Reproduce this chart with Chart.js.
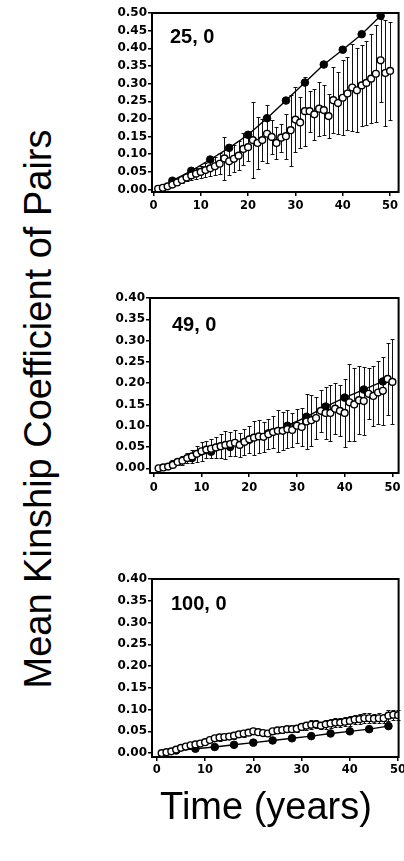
<!DOCTYPE html>
<html>
<head>
<meta charset="utf-8">
<script src="https://cdn.jsdelivr.net/npm/chart.js@4.4.1/dist/chart.umd.min.js"></script>
<style>
  body { margin:0; background:#fff; }
  #page { position:relative; width:404px; height:861px; overflow:hidden; font-family:"Liberation Sans", Arial, sans-serif; color:#000; }
  canvas { position:absolute; }
  .tag { position:absolute; font-weight:bold; font-size:20px; line-height:1; white-space:nowrap; }
  #yTitle { position:absolute; left:38px; top:409px; font-size:38px; line-height:1; white-space:nowrap;
            transform:translate(-50%,-50%) rotate(-90deg); }
  #xTitle { position:absolute; left:266px; top:787px; font-size:38px; line-height:1; white-space:nowrap;
            transform:translateX(-50%); }
</style>
</head>
<body>
<div id="page">
  <canvas id="p1"></canvas>
  <canvas id="p2"></canvas>
  <canvas id="p3"></canvas>
  <div class="tag" style="left:170px; top:26px;">25, 0</div>
  <div class="tag" style="left:172px; top:314px;">49, 0</div>
  <div class="tag" style="left:171px; top:593px;">100, 0</div>
  <div id="yTitle">Mean Kinship Coefficient of Pairs</div>
  <div id="xTitle">Time (years)</div>
</div>
<script>
// years sampled for the open circles, and every 4th year for the filled ones
var years = [1,2,3,4,5,6,7,8,9,10,11,12,13,14,15,16,17,18,19,20,21,22,23,24,25,
             26,27,28,29,30,31,32,33,34,35,36,37,38,39,40,41,42,43,44,45,46,47,48,49,50];
var filledYears = [4,8,12,16,20,24,28,32,36,40,44,48];
var xTicks = [0,10,20,30,40,50];

// panel "25, 0"
var open25 = [0.002,0.005,0.009,0.014,0.020,0.027,0.034,0.040,0.045,0.050,
              0.055,0.060,0.066,0.073,0.088,0.080,0.087,0.096,0.115,0.120,
              0.140,0.132,0.140,0.158,0.149,0.132,0.147,0.151,0.168,0.198,
              0.190,0.222,0.222,0.213,0.229,0.225,0.208,0.253,0.245,0.260,
              0.272,0.289,0.281,0.295,0.302,0.314,0.328,0.366,0.330,0.336];
var sd25 = [0.001,0.002,0.003,0.005,0.007,0.009,0.011,0.013,0.015,0.017,
            0.020,0.022,0.025,0.030,0.060,0.040,0.038,0.042,0.045,0.040,
            0.108,0.073,0.060,0.082,0.047,0.045,0.040,0.064,0.100,0.092,
            0.072,0.098,0.058,0.073,0.076,0.070,0.062,0.094,0.088,0.106,
            0.103,0.124,0.119,0.115,0.118,0.126,0.137,0.118,0.150,0.139];
var filled25 = [0.025,0.053,0.085,0.118,0.155,0.202,0.252,0.303,0.354,0.396,0.440,0.492];

// panel "49, 0"
var open49 = [0.000,0.002,0.004,0.008,0.015,0.018,0.024,0.028,0.034,0.040,
              0.044,0.046,0.049,0.052,0.055,0.057,0.060,0.055,0.062,0.068,
              0.072,0.075,0.074,0.080,0.085,0.088,0.088,0.092,0.090,0.100,
              0.097,0.110,0.113,0.118,0.135,0.130,0.130,0.140,0.135,0.130,
              0.155,0.150,0.160,0.158,0.175,0.170,0.178,0.182,0.210,0.203];
var sd49 = [0.002,0.003,0.004,0.006,0.008,0.010,0.012,0.015,0.018,0.022,
            0.020,0.022,0.024,0.028,0.033,0.028,0.030,0.028,0.030,0.032,
            0.040,0.038,0.035,0.035,0.038,0.050,0.045,0.045,0.040,0.040,
            0.045,0.065,0.060,0.050,0.050,0.060,0.065,0.060,0.060,0.080,
            0.090,0.085,0.080,0.080,0.060,0.070,0.075,0.080,0.085,0.100];
var filled49 = [0.010,0.024,0.039,0.050,0.067,0.082,0.100,0.121,0.145,0.166,0.185,0.204];

// panel "100, 0"
var open100 = [0.000,0.002,0.004,0.008,0.012,0.015,0.018,0.020,0.022,0.025,
               0.030,0.034,0.036,0.037,0.038,0.040,0.043,0.045,0.047,0.050,
               0.048,0.046,0.045,0.050,0.052,0.053,0.055,0.055,0.056,0.060,
               0.063,0.065,0.066,0.063,0.066,0.068,0.070,0.070,0.072,0.074,
               0.077,0.078,0.080,0.080,0.079,0.080,0.080,0.086,0.088,0.087];
var sd100 = [0.001,0.001,0.002,0.002,0.003,0.003,0.003,0.004,0.004,0.004,
             0.005,0.006,0.008,0.007,0.006,0.007,0.006,0.007,0.006,0.005,
             0.006,0.006,0.005,0.006,0.006,0.007,0.007,0.006,0.007,0.008,
             0.009,0.010,0.009,0.008,0.010,0.010,0.010,0.010,0.010,0.011,
             0.011,0.012,0.011,0.012,0.011,0.011,0.010,0.012,0.012,0.011];
var filled100 = [0.006,0.010,0.014,0.019,0.024,0.029,0.034,0.039,0.045,0.050,0.055,0.062];

var panels = {
  p1: { left:100, top:0,   w:304, h:222, yAxisW:52, padTop:13, xPad:3, xmin:-0.3, xmax:51.8, ymin:-0.007, ymax:0.5, mean:open25,  sd:sd25,  filled:filled25 },
  p2: { left:100, top:285, w:304, h:218, yAxisW:50, padTop:13, xPad:4, xmin:-0.8, xmax:51.3, ymin:-0.011, ymax:0.4, mean:open49,  sd:sd49,  filled:filled49 },
  p3: { left:100, top:565, w:304, h:222, yAxisW:52, padTop:14, xPad:2, xmin:-1.0, xmax:50.1, ymin:-0.009, ymax:0.4, mean:open100, sd:sd100, filled:filled100 }
};

var errorBars = {
  id: 'errorBars',
  beforeDatasetsDraw: function(chart) {
    var p = panels[chart.canvas.id];
    var ctx = chart.ctx, x = chart.scales.x, y = chart.scales.y;
    ctx.save();
    ctx.strokeStyle = '#111';
    ctx.lineWidth = 1;
    ctx.beginPath();
    for (var i = 0; i < years.length; i++) {
      var px = Math.round(x.getPixelForValue(years[i])) + 0.5;
      var t = Math.round(y.getPixelForValue(p.mean[i] + p.sd[i])) + 0.5;
      var b = Math.round(y.getPixelForValue(Math.max(p.mean[i] - p.sd[i], 0))) + 0.5;
      ctx.moveTo(px, t); ctx.lineTo(px, b);
      ctx.moveTo(px - 2, t); ctx.lineTo(px + 2, t);
      ctx.moveTo(px - 2, b); ctx.lineTo(px + 2, b);
    }
    ctx.stroke();
    ctx.restore();
  }
};

var frame = {
  id: 'frame',
  afterDraw: function(chart) {
    var a = chart.chartArea, ctx = chart.ctx;
    ctx.save();
    ctx.strokeStyle = '#000';
    ctx.lineWidth = 2;
    ctx.strokeRect(a.left, a.top, a.right - a.left, a.bottom - a.top);
    ctx.restore();
  }
};

function makePanel(id) {
  var p = panels[id];
  var cv = document.getElementById(id);
  cv.width = p.w; cv.height = p.h;
  cv.style.left = p.left + 'px'; cv.style.top = p.top + 'px';
  cv.style.width = p.w + 'px'; cv.style.height = p.h + 'px';

  var openPts = years.map(function(v, i) { return { x: v, y: p.mean[i] }; });
  var filledPts = filledYears.map(function(v, i) { return { x: v, y: p.filled[i] }; });

  new Chart(cv, {
    type: 'line',
    data: {
      datasets: [{
        data: openPts,
        showLine: false,
        pointRadius: 3.4,
        pointBorderWidth: 1.4,
        pointBackgroundColor: '#fff',
        pointBorderColor: '#000',
        order: 1
      }, {
        data: filledPts,
        borderColor: '#000',
        borderWidth: 1.4,
        pointRadius: 3.8,
        pointBorderWidth: 1,
        pointBackgroundColor: '#000',
        pointBorderColor: '#000',
        tension: 0,
        order: 2
      }]
    },
    options: {
      responsive: false,
      animation: false,
      devicePixelRatio: 1,
      layout: { padding: { top: p.padTop, right: 2.3, left: 0, bottom: 0 } },
      plugins: { legend: { display: false }, tooltip: { enabled: false } },
      scales: {
        x: {
          type: 'linear',
          min: p.xmin, max: p.xmax,
          afterBuildTicks: function(s) { s.ticks = xTicks.map(function(v) { return { value: v }; }); },
          afterFit: function(s) { s.height = 30; s.paddingLeft = 0; s.paddingRight = 0; },
          border: { display: false },
          grid: { drawOnChartArea: false, drawTicks: true, tickLength: 4, color: '#000', lineWidth: 1.5 },
          ticks: { color: '#000', padding: p.xPad, maxRotation: 0,
                   font: { family: 'DejaVu Sans', weight: 'bold', size: 11.5 },
                   callback: function(v) { return String(v); } }
        },
        y: {
          min: p.ymin, max: p.ymax,
          afterBuildTicks: function(s) {
            var t = [];
            for (var v = 0; v <= p.ymax + 1e-9; v += 0.05) t.push({ value: Math.round(v * 100) / 100 });
            s.ticks = t;
          },
          afterFit: function(s) { s.width = p.yAxisW; s.paddingTop = 0; s.paddingBottom = 0; },
          border: { display: false },
          grid: { drawOnChartArea: false, drawTicks: true, tickLength: 4, color: '#000', lineWidth: 1.5 },
          ticks: { color: '#000', padding: 1,
                   font: { family: 'DejaVu Sans', weight: 'bold', size: 12 },
                   callback: function(v) { return Number(v).toFixed(2); } }
        }
      }
    },
    plugins: [errorBars, frame]
  });
}

makePanel('p1');
makePanel('p2');
makePanel('p3');
</script>
</body>
</html>
